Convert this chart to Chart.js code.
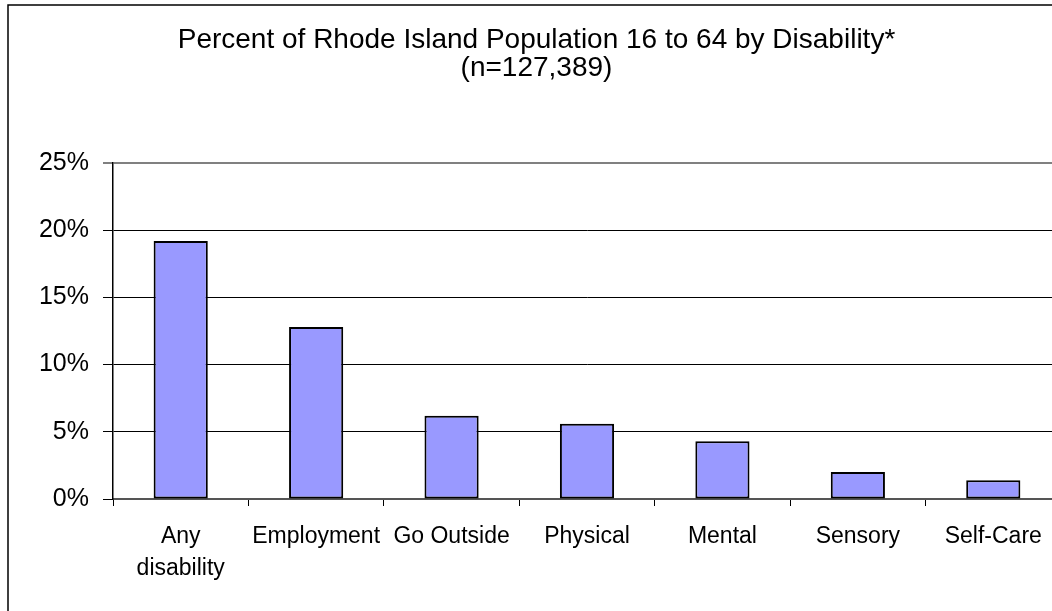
<!DOCTYPE html>
<html>
<head>
<meta charset="utf-8">
<script src="https://cdn.jsdelivr.net/npm/chart.js@4"></script>
<style>
  html, body { margin: 0; padding: 0; overflow: hidden; background: #fff; }
  #wrap { width: 1062px; height: 611px; }
</style>
</head>
<body>
<div id="wrap"><canvas id="chart" width="1062" height="611"></canvas></div>
<script>
// Data
const categories = [['Any', 'disability'], 'Employment', 'Go Outside', 'Physical', 'Mental', 'Sensory', 'Self-Care'];
const percentValues = [19.2, 12.8, 6.2, 5.6, 4.3, 2.0, 1.4];
const yTickValues = [0, 5, 10, 15, 20, 25];
const titleLines = ['Percent of Rhode Island Population 16 to 64 by Disability*', '(n=127,389)'];

const FONT = "'Liberation Sans', Arial, sans-serif";

// Outer chart frame (only left and top edges are visible in the picture)
const framePlugin = {
  id: 'frame',
  afterDraw(chart) {
    const ctx = chart.ctx;
    ctx.save();
    ctx.strokeStyle = '#000';
    ctx.lineWidth = 1.5;
    ctx.beginPath();
    ctx.moveTo(8, chart.height + 5);
    ctx.lineTo(8, 5);
    ctx.lineTo(chart.width + 5, 5);
    ctx.stroke();
    ctx.restore();
  }
};

new Chart(document.getElementById('chart'), {
  type: 'bar',
  data: {
    labels: categories,
    datasets: [{
      data: percentValues,
      backgroundColor: '#9999FF',
      borderColor: '#000',
      borderWidth: 2,
      borderSkipped: false,
      categoryPercentage: 1,
      barPercentage: 0.4
    }]
  },
  options: {
    responsive: false,
    animation: false,
    layout: { padding: { left: 12, right: 1, top: 0, bottom: 0 } },
    plugins: {
      legend: { display: false },
      tooltip: { enabled: false },
      title: {
        display: true,
        text: titleLines,
        color: '#000',
        font: { family: FONT, size: 28, weight: 'normal', lineHeight: 1.0 },
        padding: { top: 26, bottom: 81 }
      }
    },
    scales: {
      x: {
        grid: {
          offset: true,
          drawOnChartArea: false,
          color: '#000',
          tickLength: 7,
          lineWidth: 1
        },
        border: { color: '#555', width: 2 },
        ticks: {
          color: '#000',
          padding: 15,
          maxRotation: 0,
          autoSkip: false,
          font: { family: FONT, size: 23, lineHeight: 1.39 }
        },
        afterFit(scale) { scale.height = 112; }
      },
      y: {
        min: 0,
        max: 25,
        afterBuildTicks(scale) { scale.ticks = yTickValues.map(v => ({ value: v })); },
        grid: {
          color: ctx => ctx.tick && ctx.tick.value === 25 ? '#808080' : '#000',
          lineWidth: ctx => ctx.tick && ctx.tick.value === 25 ? 2 : 1,
          tickLength: 10
        },
        border: { color: '#000', width: 1.5 },
        ticks: {
          color: '#000',
          padding: 14,
          font: { family: FONT, size: 25 },
          callback: v => v + '%'
        },
        afterFit(scale) { scale.width = 101; }
      }
    }
  },
  plugins: [framePlugin]
});
</script>
</body>
</html>
